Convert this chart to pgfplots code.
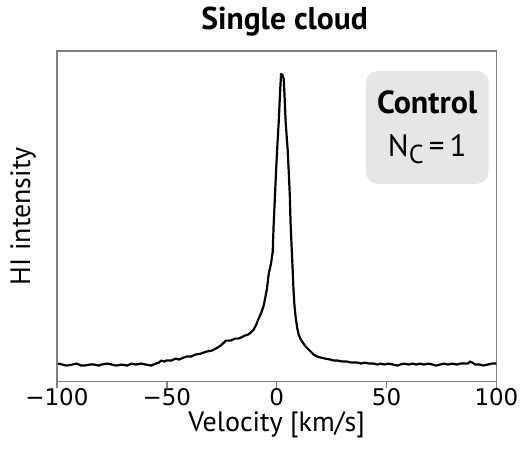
\documentclass[border=0pt]{standalone}
\usepackage{pgfplots}
\pgfplotsset{compat=1.18}
\usepackage{fontspec}
\setmainfont{PT Sans}
\newfontfamily\tickfont{DejaVu Sans}
\definecolor{spine}{HTML}{7F7F7F}
\definecolor{boxgray}{HTML}{E6E6E6}
\begin{document}
\begin{tikzpicture}
\begin{axis}[
  scale only axis, width=220pt, height=165.5pt,
  xmin=-100, xmax=100, ymin=0, ymax=331,
  xtick={-100,-50,0,50,100},
  xticklabels={−100,−50,0,50,100},
  ytick=\empty,
  axis line style={spine, line width=0.7pt},
  tick style={spine, line width=0.7pt},
  tick align=outside, major tick length=3pt,
  xtick pos=bottom,
  xticklabel style={font=\tickfont\fontsize{11.5}{13}\selectfont, yshift=3pt},
  xlabel={Velocity [km/s]},
  ylabel={HI intensity},
  label style={font=\fontsize{14}{15}\selectfont},
  xlabel style={yshift=4pt},
  ylabel style={yshift=4pt},
  title={Single cloud},
  title style={font=\bfseries\fontsize{15.8}{17}\selectfont, yshift=-2pt, xshift=4pt},
]
\addplot[black, line width=1.1pt, line join=round] coordinates {
(-99.5,18) (-97.5,17) (-95.7,16) (-93,17) (-91,18) (-89,16) (-87.5,16) (-85,17) (-83,17) (-81,16)
(-79.8,17) (-77,18) (-75,17) (-73,16) (-70.7,17) (-68,16) (-66,18) (-64,17) (-61.7,18) (-59.5,17)
(-57.1,16) (-55,18) (-53.5,19) (-52.6,21) (-51,20) (-50.3,21) (-48,21) (-46,23) (-44.5,22) (-43.5,23)
(-41,25) (-39,25) (-37,27) (-34.5,28) (-32,30) (-29.5,31) (-27.7,33) (-25.5,36) (-24,39) (-23.1,41)
(-21,41) (-19,43) (-17.5,43) (-16.3,44) (-14.5,46) (-13,47) (-11.8,49) (-10.5,52) (-9.5,56)
(-8.2,63) (-7,69) (-5.9,76) (-4.5,92) (-3.6,108) (-2.6,118) (-1.8,130) (-1.4,156) (-0.8,185) (-0.3,210)
(0.3,236) (0.9,259) (1.3,278) (1.6,292) (2.0,308) (2.6,307) (3.2,303) (3.6,285) (4.1,259) (5.0,232)
(5.6,205) (6.0,185) (6.3,160) (6.8,135) (7.3,110) (7.7,90) (8.1,76) (8.6,65) (9.3,54) (10.0,47)
(11.0,42) (12.2,38) (13.2,35) (14.1,33) (15.5,30) (16.8,27) (18.5,25) (20.0,24) (22,23) (24.5,22)
(26,21) (27.7,21) (30,20) (32,20) (34,19) (36.7,19) (38.5,18) (40,19) (42,18) (44,18) (46,17) (47.2,18)
(49,17) (51,18) (53,17) (55,16) (56.2,17) (58,18) (60,17) (62,18) (63.5,17) (65.3,18) (67,17)
(69,18) (71,17) (72.5,16) (74.4,17) (76,18) (78,17) (80,18) (82,17) (83.4,18) (85,18) (87,18)
(88,20) (89,19) (90.5,17) (92.5,17) (94,16) (96,17) (98,18) (100,18)
};
\node[fill=boxgray, rounded corners=6pt, minimum width=61.5pt, minimum height=56.5pt,
      inner sep=0pt, align=center, font=\fontsize{15.5}{21.5}\selectfont]
  at (axis cs:68.5,254.5) {{\bfseries\fontsize{16}{21.5}\selectfont Control}\\N\raisebox{-3.5pt}{\fontsize{13}{13}\selectfont C}\,=\,1};
\path (rel axis cs:0,0) ++(-28.5pt,-41pt) coordinate (bbll);
\path (rel axis cs:1,1) ++(14pt,22.5pt) coordinate (bbur);
\end{axis}
\useasboundingbox (bbll) rectangle (bbur);
\end{tikzpicture}
\end{document}
